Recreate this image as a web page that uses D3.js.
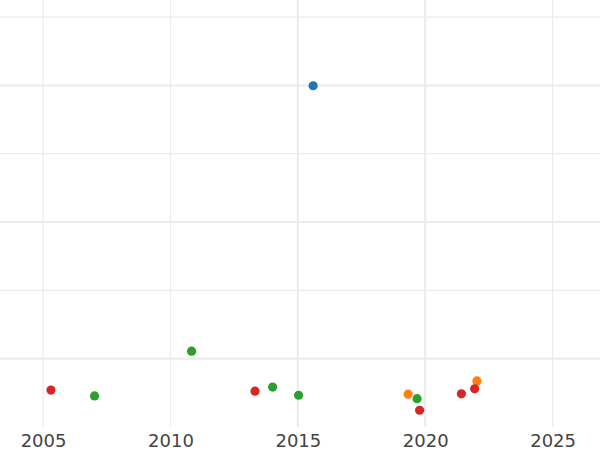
<!DOCTYPE html>
<html>
<head>
<meta charset="utf-8">
<script src="https://cdn.jsdelivr.net/npm/d3@7"></script>
<style>
	body { margin: 0; background: #fff; }
	svg { display: block; font-family: "DejaVu Sans", sans-serif; }
</style>
</head>
<body>
<svg id="chart" width="600" height="450"></svg>
<script>
// one array per colour group: year and value
var blueYears = [2015.6];
var blueValues = [99.9];

var orangeYears = [2019.33, 2022.03];
var orangeValues = [9.6, 13.5];

var greenYears = [2007.02, 2010.83, 2014.01, 2015.03, 2019.68];
var greenValues = [9.1, 22.2, 11.7, 9.3, 8.3];

var redYears = [2005.31, 2013.32, 2019.78, 2021.42, 2021.94];
var redValues = [10.8, 10.5, 4.9, 9.7, 11.2];

var xTicks = [2005, 2010, 2015, 2020, 2025];
var yGrid = [20, 40, 60, 80, 100, 120];

var width = 600,
	height = 450,
	plotBottom = 427;

init();

function init() {
	var series = [
		{ color: "#1f77b4", x: blueYears, y: blueValues },
		{ color: "#ff7f0e", x: orangeYears, y: orangeValues },
		{ color: "#2ca02c", x: greenYears, y: greenValues },
		{ color: "#d62728", x: redYears, y: redValues }
	];
	draw(series);
}

function draw(series) {
	var svg = d3.select("#chart");

	var x = d3.scaleLinear().domain([2003.31, 2026.86]).range([0, width]);
	var y = d3.scaleLinear().domain([0, 125]).range([plotBottom, 0]);

	// vertical grid, the 2015 and 2020 lines render heavier in the original
	svg.append("g")
		.selectAll("line")
		.data(xTicks)
		.enter()
		.append("line")
		.attr("x1", d => x(d))
		.attr("x2", d => x(d))
		.attr("y1", 0)
		.attr("y2", plotBottom)
		.attr("stroke", "#ebebeb")
		.attr("stroke-width", d => (d === 2015 || d === 2020) ? 2 : 1.2);

	// horizontal grid, alternating heavy / light
	svg.append("g")
		.selectAll("line")
		.data(yGrid)
		.enter()
		.append("line")
		.attr("x1", 0)
		.attr("x2", width)
		.attr("y1", d => y(d))
		.attr("y2", d => y(d))
		.attr("stroke", "#ebebeb")
		.attr("stroke-width", d => (d % 40 === 20) ? 2 : 1.2);

	// x axis labels only
	var xAxis = d3.axisBottom(x).tickValues(xTicks).tickFormat(d3.format("d")).tickSize(0).tickPadding(0);
	var axisG = svg.append("g")
		.attr("transform", "translate(0," + plotBottom + ")")
		.call(xAxis);
	axisG.select(".domain").remove();
	axisG.selectAll("text")
		.attr("dy", null)
		.attr("y", 20)
		.attr("fill", "#444")
		.style("font-size", "18px")
		.style("font-family", "DejaVu Sans, sans-serif");

	// points
	series.forEach(s => {
		svg.append("g")
			.selectAll("circle")
			.data(s.x.map((d, i) => [d, s.y[i]]))
			.enter()
			.append("circle")
			.attr("cx", d => x(d[0]))
			.attr("cy", d => y(d[1]))
			.attr("r", 4.6)
			.attr("fill", s.color);
	});
}
</script>
</body>
</html>
